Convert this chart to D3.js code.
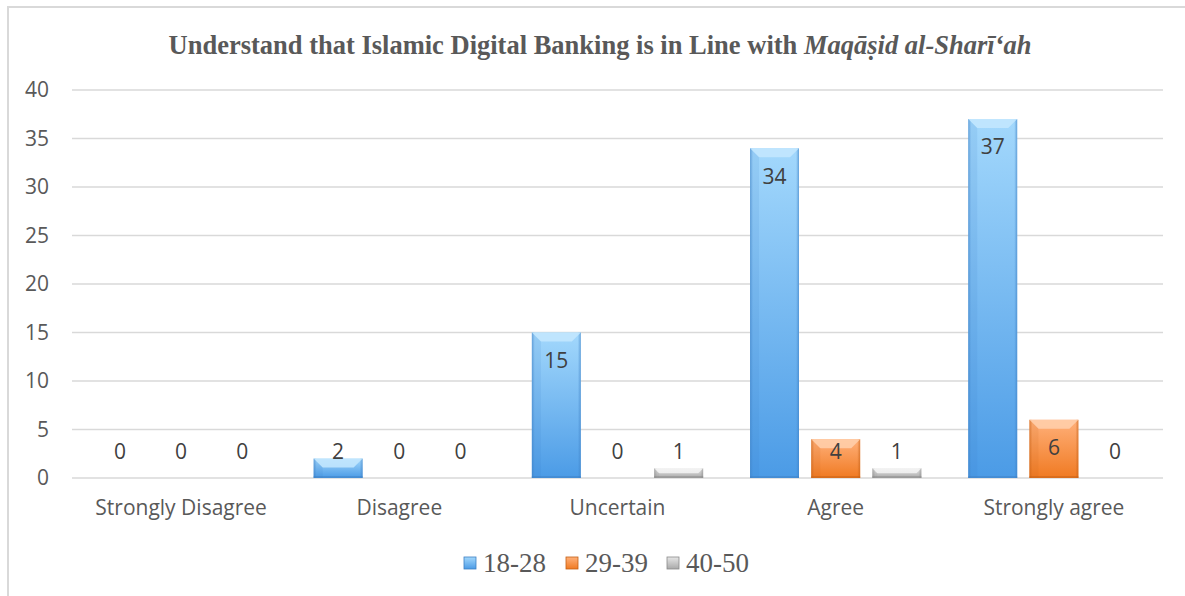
<!DOCTYPE html>
<html><head><meta charset="utf-8">
<script src="https://cdn.jsdelivr.net/npm/d3@7"></script>
<style>body{margin:0;background:#fff}svg{display:block}</style>
</head><body>
<svg id="c" width="1185" height="596"></svg>
<script>
const categories = ["Strongly Disagree","Disagree","Uncertain","Agree","Strongly agree"];
const seriesNames = ["18-28","29-39","40-50"];
const s1828 = [0,2,15,34,37];
const s2939 = [0,0,0,4,6];
const s4050 = [0,0,1,1,0];
const yTicks = [0,5,10,15,20,25,30,35,40];

const palette = {
  "18-28": {top:"#a3d8fc", bot:"#4b9be6", edge:"#3d7fc4", bevel:"#c4e7fe"},
  "29-39": {top:"#ffb07a", bot:"#f07a22", edge:"#c45f15", bevel:"#ffd0ad"},
  "40-50": {top:"#e6e6e6", bot:"#a9a9a9", edge:"#8a8a8a", bevel:"#f4f4f4"}
};
const values = {"18-28":s1828,"29-39":s2939,"40-50":s4050};
const labelFont = "'Open Sans',sans-serif";
const labelSize = 21;

const svg = d3.select("#c");
const defs = svg.append("defs");
seriesNames.forEach((s,i)=>{
  const g = defs.append("linearGradient").attr("id","g"+i).attr("x1",0).attr("y1",0).attr("x2",0).attr("y2",1);
  g.append("stop").attr("offset","0%").attr("stop-color",palette[s].top);
  g.append("stop").attr("offset","100%").attr("stop-color",palette[s].bot);
  const h = defs.append("linearGradient").attr("id","h"+i).attr("x1",0).attr("y1",0).attr("x2",1).attr("y2",0);
  h.append("stop").attr("offset","0%").attr("stop-color",palette[s].edge).attr("stop-opacity",0.55);
  h.append("stop").attr("offset","6%").attr("stop-color",palette[s].edge).attr("stop-opacity",0);
  h.append("stop").attr("offset","94%").attr("stop-color",palette[s].edge).attr("stop-opacity",0);
  h.append("stop").attr("offset","100%").attr("stop-color",palette[s].edge).attr("stop-opacity",0.6);
});

// outer border
svg.append("path").attr("d","M8,1200 L8,7 L1200,7").attr("fill","none").attr("stroke","#d9d9d9").attr("stroke-width",2);

const x0 = d3.scaleBand().domain(categories).range([72,1163]).paddingInner(0.215).paddingOuter(0.1075);
const x1 = d3.scaleBand().domain(seriesNames).range([0,x0.bandwidth()]).paddingInner(0.2);
const y = d3.scaleLinear().domain([0,40]).range([478,90]);

// gridlines
svg.append("g").selectAll("line").data(yTicks).join("line")
  .attr("x1",72).attr("x2",1163).attr("y1",d=>y(d)).attr("y2",d=>y(d))
  .attr("stroke","#d9d9d9").attr("stroke-width",1.5);

// y axis
const yAxis = svg.append("g").attr("transform","translate(55,0)")
  .call(d3.axisLeft(y).tickValues(yTicks).tickSize(0).tickPadding(6));
yAxis.select(".domain").remove();
yAxis.selectAll("text").attr("font-family",labelFont).attr("font-size",labelSize).attr("fill","#595959");

// x axis labels
const xAxis = svg.append("g").attr("transform","translate(0,478)")
  .call(d3.axisBottom(x0).tickSize(0).tickPadding(22));
xAxis.select(".domain").remove();
xAxis.selectAll("text").attr("font-family",labelFont).attr("font-size",labelSize).attr("fill","#595959");

// bars
const groups = svg.append("g").selectAll("g").data(categories).join("g")
  .attr("transform",d=>`translate(${x0(d)},0)`);
groups.each(function(cat,ci){
  const g = d3.select(this);
  seriesNames.forEach((s,si)=>{
    const v = values[s][ci];
    const bx = x1(s), bw = x1.bandwidth();
    const top = y(v), base = y(0), h = base-top;
    if(h>0){
      g.append("rect").attr("x",bx).attr("y",top).attr("width",bw).attr("height",h).attr("fill",`url(#g${si})`);
      g.append("rect").attr("x",bx).attr("y",top).attr("width",bw).attr("height",h).attr("fill",`url(#h${si})`);
      const b = Math.min(9,h/2);
      g.append("path").attr("d",`M${bx},${top} L${bx+bw},${top} L${bx+bw-b},${top+b} L${bx+b},${top+b} Z`)
        .attr("fill",palette[s].bevel).attr("opacity",0.85);
      g.append("path").attr("d",`M${bx},${top} L${bx+b},${top+b} L${bx+b},${base} L${bx},${base} Z`)
        .attr("fill",palette[s].edge).attr("opacity",0.12);
      g.append("rect").attr("x",bx).attr("y",base-2).attr("width",bw).attr("height",2)
        .attr("fill",palette[s].edge).attr("opacity",0.5);
    }
    const ly = Math.min(top+28, base-26);
    g.append("text").attr("x",bx+bw/2).attr("y",ly).attr("dy","0.35em").attr("text-anchor","middle")
      .attr("font-family",labelFont).attr("font-size",labelSize).attr("fill","#404040").text(v);
  });
});

// title
const title = svg.append("text").attr("x",600).attr("y",54).attr("text-anchor","middle")
  .attr("font-family","'Liberation Serif','Times New Roman',serif").attr("font-size",26.5).attr("font-weight","bold").attr("fill","#595959");
title.append("tspan").text("Understand that Islamic Digital Banking is in Line with ");
title.append("tspan").attr("font-style","italic").text("Maqāṣid al-Sharīʻah");

// legend
const legX = [464,566,667];
const leg = svg.append("g");
seriesNames.forEach((s,i)=>{
  leg.append("rect").attr("x",legX[i]).attr("y",557).attr("width",12).attr("height",12).attr("fill",`url(#g${i})`)
    .attr("stroke",palette[s].edge).attr("stroke-width",0.8);
  leg.append("text").attr("x",legX[i]+19).attr("y",563).attr("dy","0.35em")
    .attr("font-family","'Liberation Serif','Times New Roman',serif").attr("font-size",27).attr("fill","#595959").text(s);
});
</script>
</body></html>
